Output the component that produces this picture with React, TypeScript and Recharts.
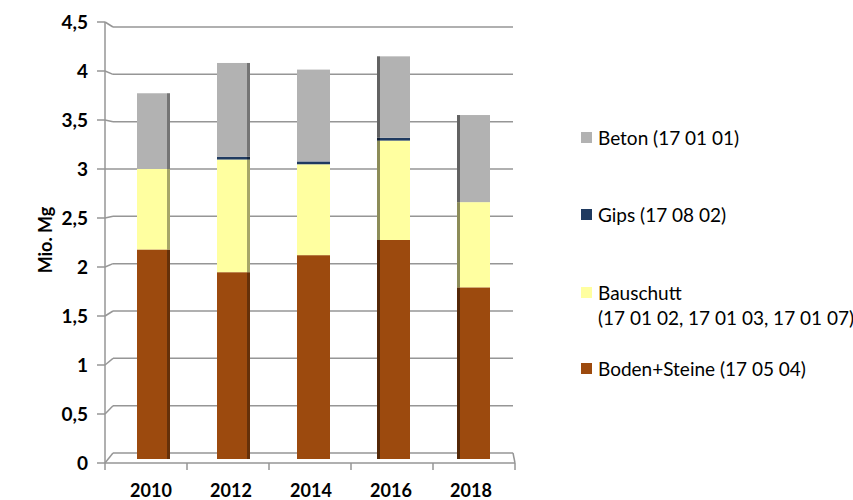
import { BarChart, Bar, XAxis, YAxis, CartesianGrid } from 'recharts'

// Bauabfälle nach Abfallart, Mio. Mg
const years = ['2010', '2012', '2014', '2016', '2018']
const boden = [2.15, 1.91, 2.09, 2.25, 1.75]
const bauschutt = [0.85, 1.19, 0.96, 1.05, 0.9]
const gips = [0, 0.03, 0.03, 0.03, 0]
const beton = [0.8, 0.99, 0.97, 0.86, 0.92]

const yTicks = [0, 0.5, 1, 1.5, 2, 2.5, 3, 3.5, 4, 4.5]

// stacking order bottom -> top
const seriesKeys = ['boden', 'bauschutt', 'gips', 'beton']
const seriesColors = ['#9c4a0e', '#ffffa0', '#1f3a60', '#b2b2b2']

// legend order top -> bottom
const legendLabels = [
  ['Beton (17 01 01)'],
  ['Gips (17 08 02)'],
  ['Bauschutt', '(17 01 02, 17 01 03, 17 01 07)'],
  ['Boden+Steine (17 05 04)'],
]
const legendColors = ['#b2b2b2', '#1f3a60', '#ffffa0', '#9c4a0e']

// layout (pseudo 3D: back wall = plot area, front edge a bit larger)
const PLOT_TOP = 27
const PLOT_BOTTOM = 453
const PLOT_LEFT = 113
const PLOT_RIGHT = 513
const FRONT_TOP = 22
const FRONT_BOTTOM = 463
const FRONT_LEFT = 105
const FRONT_RIGHT = 515
const FLOOR_DEPTH = 6 // columns stand a bit in front of the back wall
const LEGEND_Y = [137, 214, 292, 368]
const AXIS_GRAY = '#969696'
const FONT = 'Lato, "Open Sans", sans-serif'

const toFrontY = (y: number) =>
  FRONT_TOP + ((y - PLOT_TOP) * (FRONT_BOTTOM - FRONT_TOP)) / (PLOT_BOTTOM - PLOT_TOP)
const toFrontX = (x: number) =>
  FRONT_LEFT + ((x - PLOT_LEFT) * (FRONT_RIGHT - FRONT_LEFT)) / (PLOT_RIGHT - PLOT_LEFT)

const data = years.map((year, i) => ({
  year,
  boden: boden[i],
  bauschutt: bauschutt[i],
  gips: gips[i],
  beton: beton[i],
}))

function YTick(props: any) {
  const { y, payload } = props
  const fy = toFrontY(y)
  const step = (PLOT_BOTTOM - PLOT_TOP) / (yTicks.length - 1)
  const isTop = payload.value >= yTicks[yTicks.length - 1]
  return (
    <g>
      <line x1={FRONT_LEFT - 8} y1={fy} x2={FRONT_LEFT} y2={fy} stroke={AXIS_GRAY} strokeWidth={1.5} />
      <line x1={FRONT_LEFT} y1={fy} x2={PLOT_LEFT} y2={y} stroke={AXIS_GRAY} strokeWidth={1.5} />
      {!isTop && (
        <line x1={FRONT_LEFT} y1={fy} x2={FRONT_LEFT} y2={toFrontY(y - step)} stroke={AXIS_GRAY} strokeWidth={1.5} />
      )}
      <text x={88} y={fy} dy="0.35em" textAnchor="end" fontFamily={FONT} fontWeight={700} fontSize={19} fill="#000">
        {String(payload.value).replace('.', ',')}
      </text>
    </g>
  )
}

function XTick(props: any) {
  const { x, payload, index } = props
  const band = (PLOT_RIGHT - PLOT_LEFT) / years.length
  const l = toFrontX(x - band / 2)
  const r = toFrontX(x + band / 2)
  const last = index === years.length - 1
  return (
    <g>
      <line x1={l} y1={FRONT_BOTTOM} x2={r} y2={FRONT_BOTTOM} stroke={AXIS_GRAY} strokeWidth={1.5} />
      <line x1={r} y1={FRONT_BOTTOM} x2={r} y2={FRONT_BOTTOM + 7} stroke={AXIS_GRAY} strokeWidth={1.5} />
      {index === 0 && <line x1={l} y1={FRONT_BOTTOM} x2={l} y2={FRONT_BOTTOM + 7} stroke={AXIS_GRAY} strokeWidth={1.5} />}
      {last && <line x1={PLOT_RIGHT} y1={PLOT_BOTTOM} x2={r} y2={FRONT_BOTTOM} stroke={AXIS_GRAY} strokeWidth={1.5} />}
      <text x={x - 2} y={491} dy="0.35em" textAnchor="middle" fontFamily={FONT} fontWeight={700} fontSize={18} fill="#000">
        {payload.value}
      </text>
    </g>
  )
}

// column with a thin darker side face, left or right depending on position
function Column3D(props: any) {
  const { x, y, width, height, fill, index, bottom } = props
  if (!height || height <= 0) return null
  const mid = (years.length - 1) / 2
  const side = index < mid ? 'right' : index > mid ? 'left' : null
  const sw = 3
  const h = bottom ? height + FLOOR_DEPTH : height
  return (
    <g>
      <rect x={x} y={y} width={width} height={h} fill={fill} />
      {side === 'right' && <rect x={x + width - sw} y={y} width={sw} height={h} fill="#000" fillOpacity={0.35} />}
      {side === 'left' && <rect x={x} y={y} width={sw} height={h} fill="#000" fillOpacity={0.45} />}
    </g>
  )
}

export default function App() {
  return (
    <div style={{ position: 'absolute', left: 0, top: 0, width: 853, height: 500, background: '#fff' }}>
      <BarChart
        width={853}
        height={500}
        data={data}
        margin={{ top: PLOT_TOP, right: 853 - PLOT_RIGHT, bottom: 17, left: PLOT_LEFT - 60 }}
      >
        <CartesianGrid vertical={false} stroke={AXIS_GRAY} strokeWidth={1.5} />
        <XAxis dataKey="year" axisLine={false} tickLine={false} height={30} tick={(p: any) => <XTick {...p} />} />
        <YAxis
          domain={[0, 4.5]}
          ticks={yTicks}
          width={60}
          axisLine={false}
          tickLine={false}
          tick={(p: any) => <YTick {...p} />}
        />
        {seriesKeys.map((key, i) => (
          <Bar
            key={key}
            dataKey={key}
            stackId="a"
            fill={seriesColors[i]}
            barSize={33}
            isAnimationActive={false}
            shape={(p: any) => <Column3D {...p} bottom={i === 0} />}
          />
        ))}
      </BarChart>

      <div
        style={{
          position: 'absolute',
          left: 45,
          top: 240,
          transform: 'translate(-50%, -50%) rotate(-90deg)',
          fontFamily: FONT,
          fontWeight: 700,
          fontSize: 18,
          whiteSpace: 'nowrap',
        }}
      >
        Mio. Mg
      </div>

      {legendLabels.map((lines, i) => (
        <div
          key={i}
          style={{
            position: 'absolute',
            left: 581,
            top: LEGEND_Y[i] - 12,
            fontFamily: FONT,
            fontSize: 19,
            lineHeight: '25px',
            color: '#000',
            whiteSpace: 'nowrap',
          }}
        >
          <span
            style={{
              position: 'absolute',
              left: 0,
              top: 7,
              width: 11,
              height: 11,
              background: legendColors[i],
            }}
          />
          <div style={{ marginLeft: 17 }}>
            {lines.map((t, j) => (
              <div key={j}>{t}</div>
            ))}
          </div>
        </div>
      ))}
    </div>
  )
}
